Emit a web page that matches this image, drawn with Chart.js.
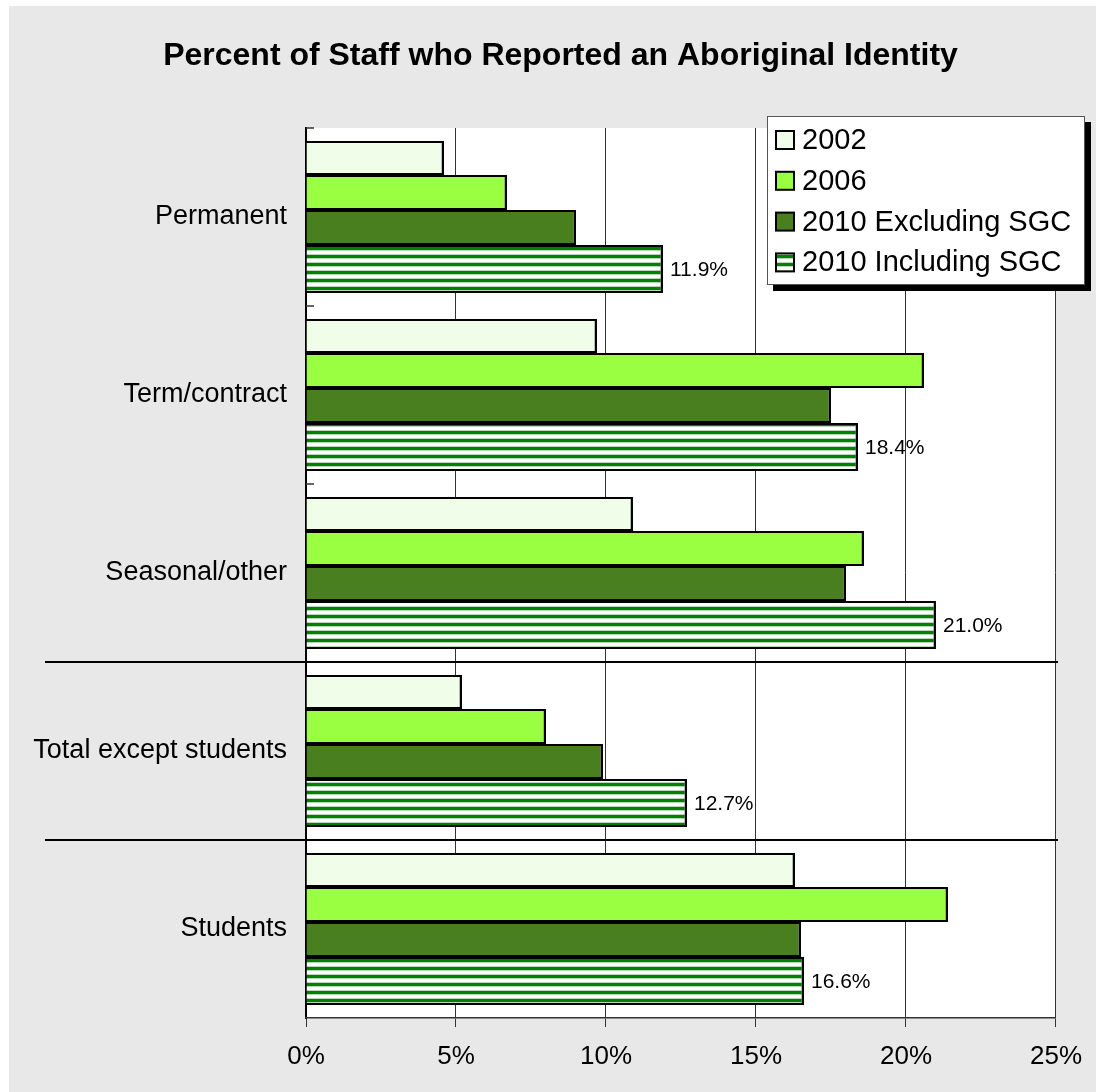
<!DOCTYPE html>
<html lang="en">
<head>
<meta charset="UTF-8">
<title>Percent of Staff who Reported an Aboriginal Identity</title>
<style>
    body {
        margin: 0;
        background: #fff;
    }
    #wrap {
        position: absolute;
        left: 9px;
        top: 6px;
        width: 1087px;
        height: 1086px;
        background: #e8e8e8;
    }
</style>
</head>
<body>
<div id="wrap"><canvas id="staffChart" width="1087" height="1086"></canvas></div>

<script src="https://cdn.jsdelivr.net/npm/chart.js"></script>
<script>
const categories = ["Permanent", "Term/contract", "Seasonal/other", "Total except students", "Students"];
const seriesNames = ["2002", "2006", "2010 Excluding SGC", "2010 Including SGC"];
const values2002 = [4.6, 9.7, 10.9, 5.2, 16.3];
const values2006 = [6.7, 20.6, 18.6, 8.0, 21.4];
const values2010Excl = [9.0, 17.5, 18.0, 9.9, 16.5];
const values2010Incl = [11.9, 18.4, 21.0, 12.7, 16.6];
const xTicks = [0, 5, 10, 15, 20, 25];
// groups that get a full-width divider line above them
const dividedBefore = [3, 4];

const FONT = '"Liberation Sans", Arial, sans-serif';
Chart.defaults.font.family = FONT;
Chart.defaults.color = '#000';

// green / white horizontal stripes for the last series
function stripePattern() {
    const c = document.createElement('canvas');
    c.width = 8;
    c.height = 8;
    const g = c.getContext('2d');
    g.fillStyle = '#ffffff';
    g.fillRect(0, 0, 8, 8);
    g.fillStyle = '#b9d6b9';
    g.fillRect(0, 0, 8, 1);
    g.fillRect(0, 4, 8, 1);
    g.fillStyle = '#008000';
    g.fillRect(0, 1, 8, 3);
    return g.createPattern(c, 'repeat');
}
const stripes = stripePattern();

// relative thickness of the four bars inside one group
const barWeights = [34, 35, 35, 48];

function boundary(y, i) {
    return (y.getPixelForValue(i) + y.getPixelForValue(i + 1)) / 2;
}

const plotBackground = {
    id: 'plotBackground',
    beforeDraw(chart) {
        const a = chart.chartArea;
        const ctx = chart.ctx;
        ctx.save();
        ctx.fillStyle = '#fff';
        ctx.fillRect(a.left, a.top, a.right - a.left, a.bottom - a.top);
        ctx.restore();
    }
};

const barSizing = {
    id: 'barSizing',
    afterDatasetsUpdate(chart) {
        const metas = chart.data.datasets.map((d, i) => chart.getDatasetMeta(i));
        const total = barWeights.reduce((s, w) => s + w, 0);
        categories.forEach((c, i) => {
            const bars = metas.map(m => m.data[i]);
            const top = Math.min(...bars.map(b => b.y - b.height / 2));
            const bottom = Math.max(...bars.map(b => b.y + b.height / 2));
            let pos = top;
            bars.forEach((b, k) => {
                const h = (bottom - top) * barWeights[k] / total;
                b.y = pos + h / 2;
                b.height = h;
                pos += h;
            });
        });
    }
};

const chartDecor = {
    id: 'chartDecor',
    afterDatasetsDraw(chart) {
        const ctx = chart.ctx;
        const a = chart.chartArea;
        const y = chart.scales.y;
        ctx.save();

        // short inward ticks on the category axis
        ctx.strokeStyle = '#333';
        ctx.lineWidth = 1.5;
        const marks = [a.top];
        for (let i = 0; i < categories.length - 1; i++) marks.push(boundary(y, i));
        marks.forEach(m => {
            ctx.beginPath();
            ctx.moveTo(a.left, m);
            ctx.lineTo(a.left + 8, m);
            ctx.stroke();
        });

        // divider lines between the detail rows and the totals
        ctx.strokeStyle = '#000';
        ctx.lineWidth = 2;
        dividedBefore.forEach(i => {
            const m = boundary(y, i - 1);
            ctx.beginPath();
            ctx.moveTo(36, m);
            ctx.lineTo(a.right + 2, m);
            ctx.stroke();
        });

        // value labels on the last series
        const last = chart.data.datasets.length - 1;
        const meta = chart.getDatasetMeta(last);
        ctx.fillStyle = '#000';
        ctx.font = '21px ' + FONT;
        ctx.textAlign = 'left';
        ctx.textBaseline = 'middle';
        meta.data.forEach((b, i) => {
            ctx.fillText(chart.data.datasets[last].data[i].toFixed(1) + '%', b.x + 7, b.y + 1);
        });
        ctx.restore();
    },
    afterDraw(chart) {
        const ctx = chart.ctx;
        ctx.save();

        // title
        ctx.fillStyle = '#000';
        ctx.font = 'bold 32px ' + FONT;
        ctx.textAlign = 'center';
        ctx.textBaseline = 'middle';
        ctx.fillText('Percent of Staff who Reported an Aboriginal Identity', chart.width / 2 + 8, 50);

        // legend box with drop shadow
        const box = { left: 758, top: 110, width: 318, height: 169 };
        ctx.fillStyle = '#000';
        ctx.fillRect(box.left + 6, box.top + 6, box.width, box.height);
        ctx.fillStyle = '#fff';
        ctx.fillRect(box.left, box.top, box.width, box.height);
        ctx.strokeStyle = '#555';
        ctx.lineWidth = 1;
        ctx.strokeRect(box.left + 0.5, box.top + 0.5, box.width - 1, box.height - 1);

        ctx.font = '29px ' + FONT;
        ctx.textAlign = 'left';
        ctx.textBaseline = 'middle';
        chart.data.datasets.forEach((ds, k) => {
            const cy = box.top + 24 + k * 40.8;
            const sx = box.left + 9;
            ctx.fillStyle = ds.backgroundColor;
            ctx.fillRect(sx, cy - 9, 18, 18);
            ctx.strokeStyle = '#000';
            ctx.lineWidth = 2;
            ctx.strokeRect(sx, cy - 9, 18, 18);
            ctx.fillStyle = '#000';
            ctx.fillText(ds.label, box.left + 35, cy + 1);
        });
        ctx.restore();
    }
};

const barBorder = { top: 2, right: 2.5, bottom: 2, left: 0 };

new Chart(document.getElementById('staffChart'), {
    type: 'bar',
    data: {
        labels: categories,
        datasets: [
            { label: seriesNames[0], data: values2002, backgroundColor: '#effde9' },
            { label: seriesNames[1], data: values2006, backgroundColor: '#99ff40' },
            { label: seriesNames[2], data: values2010Excl, backgroundColor: '#4a7f20' },
            { label: seriesNames[3], data: values2010Incl, backgroundColor: stripes }
        ].map(ds => Object.assign(ds, {
            borderColor: '#000',
            borderWidth: barBorder,
            borderSkipped: false,
            categoryPercentage: 0.854,
            barPercentage: 1
        }))
    },
    options: {
        indexAxis: 'y',
        responsive: false,
        animation: false,
        events: [],
        layout: { padding: { top: 122, right: 40, left: 0, bottom: 0 } },
        plugins: {
            legend: { display: false },
            title: { display: false },
            tooltip: { enabled: false }
        },
        scales: {
            y: {
                grid: { drawOnChartArea: false, drawTicks: false },
                border: { display: true, color: '#000', width: 2 },
                ticks: { padding: 19, font: { size: 27 }, color: '#000' },
                afterFit(scale) { scale.width = 297; }
            },
            x: {
                min: xTicks[0],
                max: xTicks[xTicks.length - 1],
                afterBuildTicks(scale) { scale.ticks = xTicks.map(v => ({ value: v })); },
                grid: { color: '#333', lineWidth: 1, tickLength: 9 },
                border: { display: true, color: '#333', width: 1.5 },
                ticks: {
                    padding: 14,
                    font: { size: 26 },
                    color: '#000',
                    maxRotation: 0,
                    callback: v => v + '%'
                },
                afterFit(scale) { scale.height = 74; }
            }
        }
    },
    plugins: [plotBackground, barSizing, chartDecor]
});
</script>
</body>
</html>
